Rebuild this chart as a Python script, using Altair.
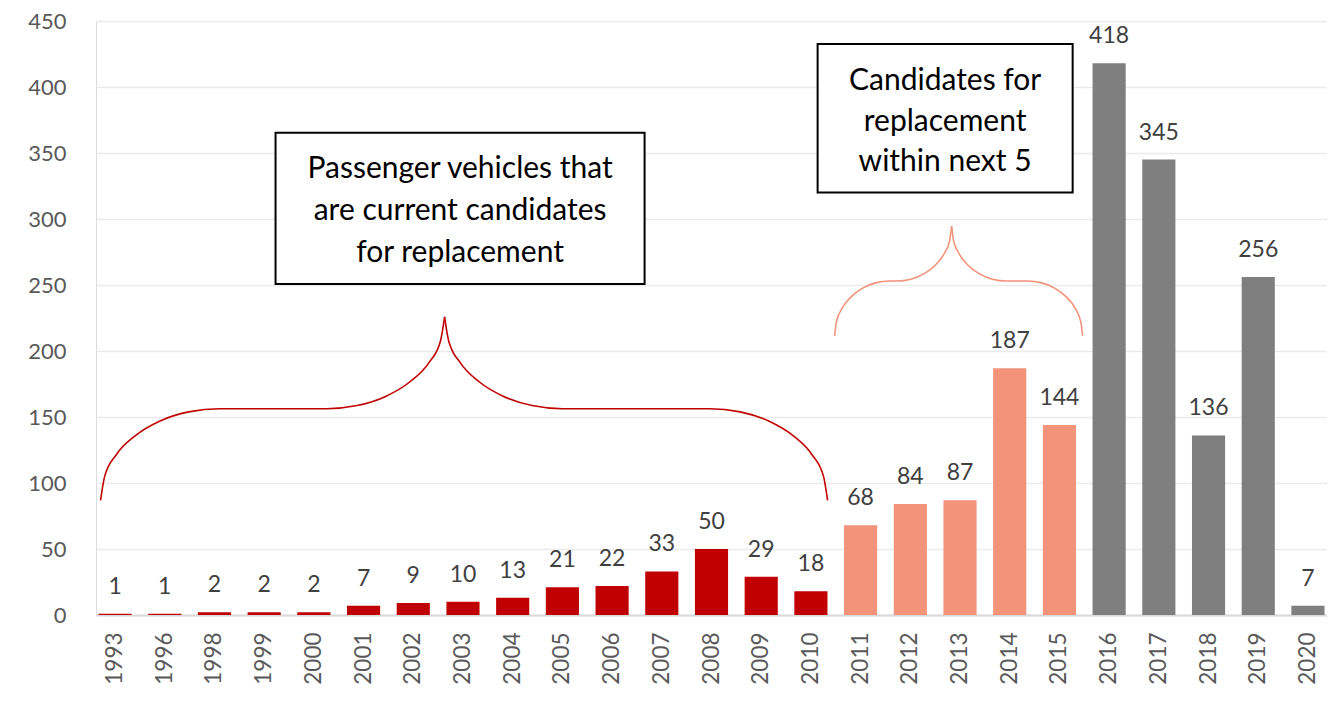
import altair as alt
import pandas as pd

# ---- data ----
years = ["1993", "1996", "1998", "1999", "2000", "2001", "2002", "2003", "2004",
         "2005", "2006", "2007", "2008", "2009", "2010", "2011", "2012", "2013",
         "2014", "2015", "2016", "2017", "2018", "2019", "2020"]
counts = [1, 1, 2, 2, 2, 7, 9, 10, 13, 21, 22, 33, 50, 29, 18,
          68, 84, 87, 187, 144, 418, 345, 136, 256, 7]
groups = (["current"] * 15) + (["next5"] * 5) + (["later"] * 5)

group_domain = ["current", "next5", "later"]
group_colors = ["#C00000", "#F2937A", "#7F7F7F"]

# annotation boxes (x in bar-index units, y in value units)
box_x = [3.229, 14.135]
box_x2 = [10.654, 19.266]
box_y = [365.4, 432.6]
box_y2 = [250.7, 320.1]

box_lines = ["Passenger vehicles that", "are current candidates", "for replacement",
             "Candidates for", "replacement", "within next 5"]
box_line_x = [6.942, 6.942, 6.942, 16.700, 16.700, 16.700]
box_line_y = [330.7, 299.0, 267.3, 397.9, 367.0, 336.0]

# brace outlines (x in bar-index units, y in value units)
brace1_x = [-0.292, -0.210, 0.029, 0.410, 0.905, 1.483, 2.103, 4.256, 4.870, 5.443, 5.934, 6.312, 6.549, 6.630,
            6.630, 6.711, 6.948, 7.325, 7.817, 8.390, 9.004, 11.962, 12.576, 13.149, 13.641, 14.018, 14.255, 14.336]
brace1_y = [86.8, 104.8, 121.6, 135.9, 147.0, 153.9, 156.3, 156.3, 158.7, 165.6, 176.7, 191.0, 207.8, 225.8,
            225.8, 207.8, 191.0, 176.7, 165.6, 158.7, 156.3, 156.3, 153.9, 147.0, 135.9, 121.6, 104.8, 86.8]
brace2_x = [14.477, 14.515, 14.626, 14.802, 15.031, 15.298, 15.584, 15.724, 16.010, 16.277, 16.507, 16.682, 16.793, 16.831,
            16.831, 16.869, 16.980, 17.156, 17.385, 17.652, 17.938, 18.360, 18.646, 18.913, 19.143, 19.318, 19.429, 19.467]
brace2_y = [211.5, 222.2, 232.3, 240.8, 247.4, 251.6, 253.0, 253.0, 254.4, 258.6, 265.2, 273.8, 283.8, 294.5,
            294.5, 283.8, 273.8, 265.2, 258.6, 254.4, 253.0, 253.0, 251.6, 247.4, 240.8, 232.3, 222.2, 211.5]

# ---- tables ----
bars_df = pd.DataFrame({"year": years, "v": counts, "grp": groups})
half = ["a"] * 14 + ["b"] * 14
b1 = pd.DataFrame({"ix": brace1_x, "v": brace1_y, "part": half, "k": list(range(28))})
b2 = pd.DataFrame({"ix": brace2_x, "v": brace2_y, "part": half, "k": list(range(28))})
boxes_df = pd.DataFrame({"ix": box_x, "ix2": box_x2, "v": box_y, "v2": box_y2})
lines_df = pd.DataFrame({"ix": box_line_x, "v": box_line_y, "txt": box_lines})

FONT = "Lato"
P_IN = 1 / 3
P_OUT = 0.05
N = len(years)
vmin = -(P_OUT + (1 - P_IN) / 2)
vmax = N - 0.5 - P_IN / 2 + P_OUT

yscale = alt.Scale(domain=[0, 450], nice=False, zero=True)
yaxis = alt.Axis(values=list(range(0, 451, 50)), labelFontSize=22, labelColor="#595959",
                 labelFont=FONT, ticks=False, domain=False, gridColor="#EBEBEB",
                 gridWidth=1.5, labelPadding=30, title=None)
Y = alt.Y("v:Q", scale=yscale, axis=yaxis)

xband = alt.X("year:N", sort=years,
              scale=alt.Scale(paddingInner=P_IN, paddingOuter=P_OUT),
              axis=alt.Axis(labelAngle=-90, labelFontSize=22.5, labelFont=FONT,
                            labelColor="#595959", ticks=False, domainColor="#D9D9D9",
                            domainWidth=2, labelPadding=17, title=None, grid=False))
xq = alt.X("ix:Q", scale=alt.Scale(domain=[vmin, vmax], nice=False, zero=False), axis=None)

bars = alt.Chart(bars_df).mark_bar().encode(
    x=xband, y=Y,
    color=alt.Color("grp:N", scale=alt.Scale(domain=group_domain, range=group_colors), legend=None),
)
labels = alt.Chart(bars_df).mark_text(dy=-20, baseline="alphabetic", fontSize=23,
                                      font=FONT, color="#404040").encode(
    x=xband, y=Y, text=alt.Text("v:Q")
)

base = alt.layer(bars, labels)

brace1 = alt.Chart(b1).mark_line(color="#C00000", strokeWidth=1.6, interpolate="monotone").encode(
    x=xq, y=Y, detail="part:N", order="k:Q")
brace2 = alt.Chart(b2).mark_line(color="#F2937A", strokeWidth=1.6, interpolate="monotone").encode(
    x=xq, y=Y, detail="part:N", order="k:Q")
boxes = alt.Chart(boxes_df).mark_rect(fill="white", stroke="black", strokeWidth=2).encode(
    x=xq, x2="ix2:Q", y=Y, y2="v2:Q")
box_text = alt.Chart(lines_df).mark_text(fontSize=30, font=FONT, color="black",
                                         align="center", baseline="alphabetic").encode(
    x=xq, y=Y, text="txt:N")

annot = alt.layer(brace1, brace2, boxes, box_text)

chart = alt.layer(base, annot).resolve_scale(x="independent").properties(
    width=1231, height=594,
    autosize=alt.AutoSizeParams(type="none"),
    padding={"left": 88, "top": 13, "right": 0, "bottom": 85},
).configure_view(stroke=None).configure(background="white")

chart.save("out.html", embed_options={"renderer": "svg", "actions": False})
